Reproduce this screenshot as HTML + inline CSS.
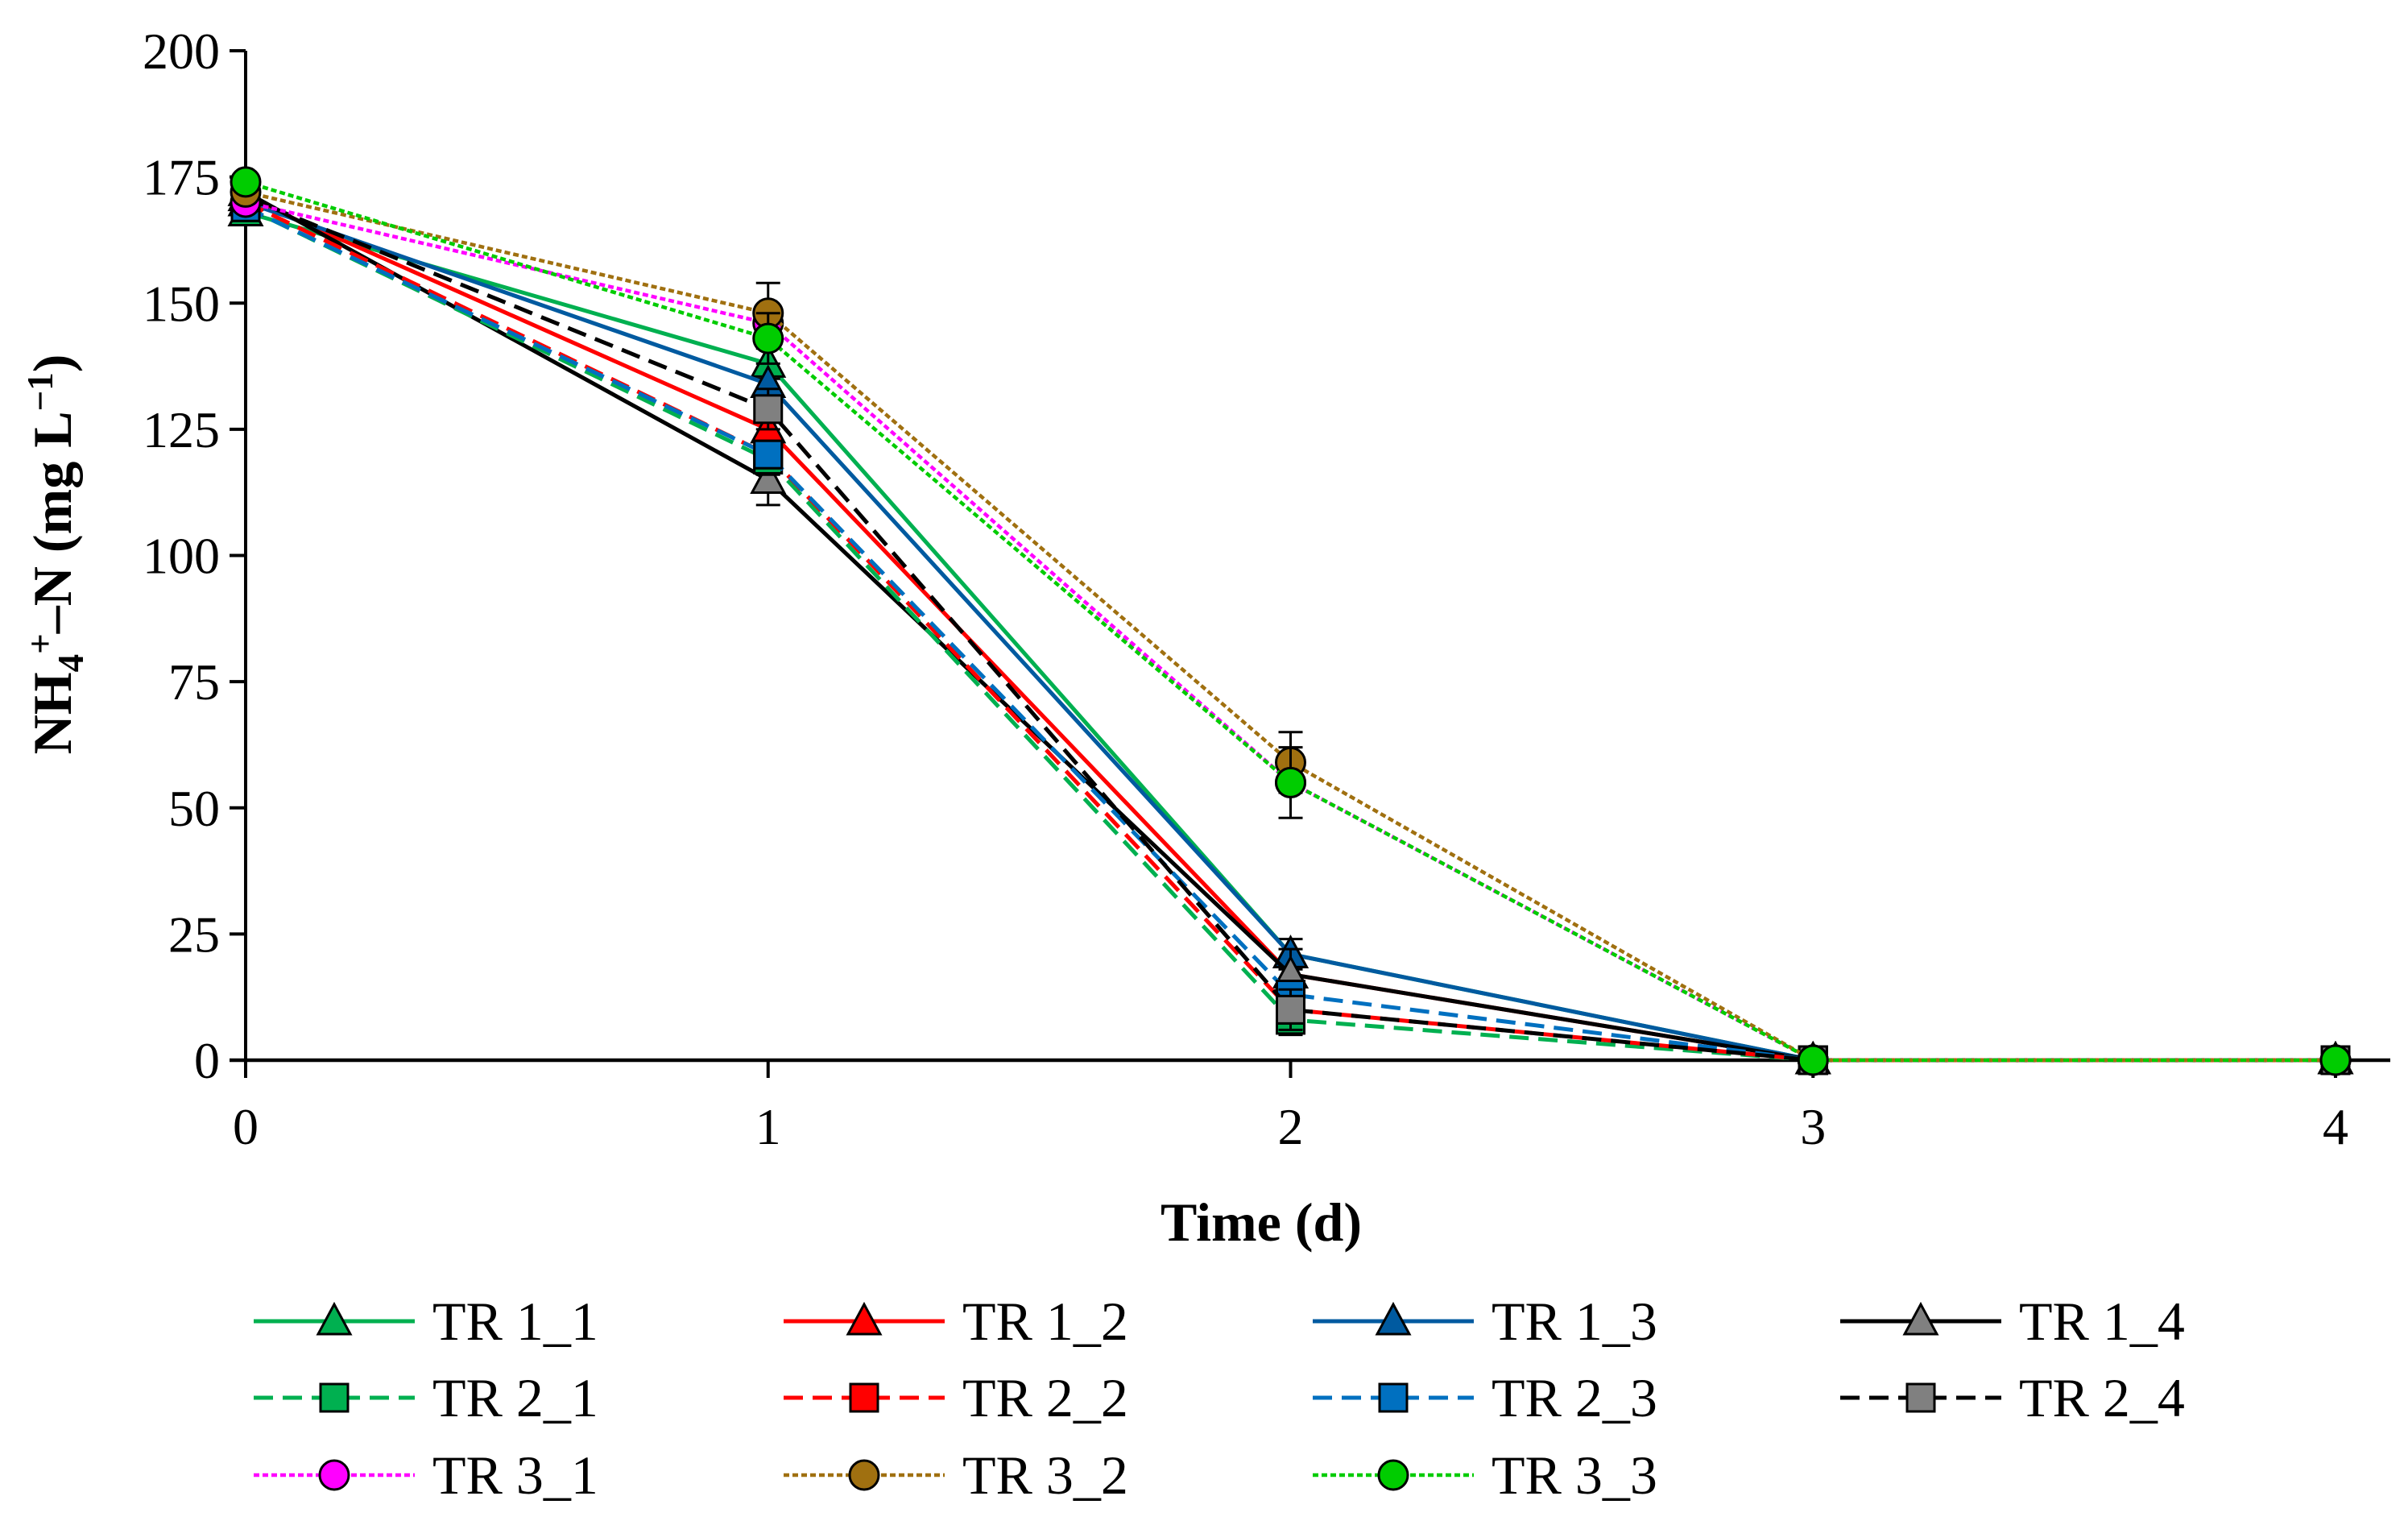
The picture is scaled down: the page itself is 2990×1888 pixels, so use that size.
<!DOCTYPE html>
<html><head><meta charset="utf-8"><style>
html,body{margin:0;padding:0;background:#fff}
svg{display:block;font-family:"Liberation Serif",serif}
</style></head><body>
<svg id="chart" width="2990" height="1888" viewBox="0 0 2990 1888" xmlns="http://www.w3.org/2000/svg">
<g id="axes"></g><g id="series"></g><g id="legend"></g>
</svg>
<script>
const days=[0,1,2,3,4];
const yTicks=[0,25,50,75,100,125,150,175,200];
const names=["TR 1_1","TR 1_2","TR 1_3","TR 1_4","TR 2_1","TR 2_2","TR 2_3","TR 2_4","TR 3_1","TR 3_2","TR 3_3"];
const v11=[168,138,21,0,0];
const v12=[171,125,17,0,0];
const v13=[170,134,21,0,0];
const v14=[172,115,17,0,0];
const v21=[169,119,8,0,0];
const v22=[170,120,10,0,0];
const v23=[169,120,13,0,0];
const v24=[171,129,10,0,0];
const v31=[170,146,55,0,0];
const v32=[172,148,59,0,0];
const v33=[174,143,55,0,0];
const e11=[0,3,3,0,0];
const e14=[0,5,5,0,0];
const e24=[0,4,4,0,0];
const e32=[0,6,6,0,0];
const e33=[0,5,7,0,0];
const e21=[0,3,3,0,0];
const values=[v11,v12,v13,v14,v21,v22,v23,v24,v31,v32,v33];
const errs=[e11,null,null,e14,e21,null,null,e24,null,e32,e33];
const styles=[
 {c:"#00B050",d:"",m:"tri",f:"#00B050"},
 {c:"#FF0000",d:"",m:"tri",f:"#FF0000"},
 {c:"#005AA0",d:"",m:"tri",f:"#005AA0"},
 {c:"#000000",d:"",m:"tri",f:"#808080"},
 {c:"#00B050",d:"24 12",m:"sq",f:"#00B050"},
 {c:"#FF0000",d:"24 12",m:"sq",f:"#FF0000"},
 {c:"#0070C0",d:"24 12",m:"sq",f:"#0070C0"},
 {c:"#000000",d:"24 12",m:"sq",f:"#808080"},
 {c:"#FF00FF",d:"7 4",m:"cir",f:"#FF00FF"},
 {c:"#A07010",d:"7 4",m:"cir",f:"#A07010"},
 {c:"#00CC00",d:"7 4",m:"cir",f:"#00CC00"}];
const NS="http://www.w3.org/2000/svg";
const X0=305,XS=648.75,Y0=1316,YS=6.265;
const xp=d=>X0+d*XS, yp=v=>Y0-v*YS;
function mk(t,a,p){const e=document.createElementNS(NS,t);for(const k in a)e.setAttribute(k,a[k]);p.appendChild(e);return e;}
const ax=document.getElementById('axes'),sr=document.getElementById('series'),lg=document.getElementById('legend');
const yl=mk('line',{x1:X0,y1:yp(200),x2:X0,y2:Y0,stroke:'#000','stroke-width':4},ax);

const xl=mk('line',{x1:X0-20,y1:Y0,x2:2968,y2:Y0,stroke:'#000','stroke-width':4.5},ax);

yTicks.forEach(t=>{
 mk('line',{x1:X0-20,y1:yp(t),x2:X0,y2:yp(t),stroke:'#000','stroke-width':4},ax);
 const tx=mk('text',{x:X0-32,y:yp(t)+22,'text-anchor':'end','font-size':64},ax);tx.textContent=t;
 
});
days.forEach(d=>{
 mk('line',{x1:xp(d),y1:Y0,x2:xp(d),y2:Y0+22,stroke:'#000','stroke-width':4},ax);
 const tx=mk('text',{x:xp(d),y:Y0+104,'text-anchor':'middle','font-size':64},ax);tx.textContent=d;
 
});
const xt=mk('text',{x:1566,y:1540,'text-anchor':'middle','font-size':68,'font-weight':'bold'},ax);xt.textContent="Time (d)";

const yt=mk('text',{x:0,y:0,'text-anchor':'middle','font-size':68,'font-weight':'bold',transform:'translate(88,688) rotate(-90)'},ax);
yt.innerHTML='NH<tspan font-size="45" dy="15">4</tspan><tspan font-size="45" dy="-38">+</tspan><tspan dy="23">–N (mg L</tspan><tspan font-size="45" dy="-23">−1</tspan><tspan dy="23">)</tspan>';

function marker(m,x,y,f,p,s){
 let e;
 if(m==='tri')e=mk('polygon',{points:`${x},${y-21*s} ${x-20*s},${y+16*s} ${x+20*s},${y+16*s}`,fill:f,stroke:'#000','stroke-width':3},p);
 else if(m==='sq')e=mk('rect',{x:x-17*s,y:y-17*s,width:34*s,height:34*s,fill:f,stroke:'#000','stroke-width':3},p);
 else e=mk('circle',{cx:x,cy:y,r:18*s,fill:f,stroke:'#000','stroke-width':3},p);
 return e;
}
values.forEach((vals,i)=>{
 const st=styles[i];const g=mk('g',{},sr);
 
 
 const pts=vals.map((v,j)=>xp(days[j])+','+yp(v)).join(' ');
 const pl=mk('polyline',{points:pts,fill:'none',stroke:st.c,'stroke-width':st.d==='7 4'?4.5:5,'stroke-dasharray':st.d},g);
 
 const er=errs[i];
 if(er)vals.forEach((v,j)=>{if(er[j]>0){const x=xp(days[j]);
  mk('line',{x1:x,y1:yp(v-er[j]),x2:x,y2:yp(v+er[j]),stroke:'#000','stroke-width':3},g);
  mk('line',{x1:x-15,y1:yp(v-er[j]),x2:x+15,y2:yp(v-er[j]),stroke:'#000','stroke-width':3},g);
  mk('line',{x1:x-15,y1:yp(v+er[j]),x2:x+15,y2:yp(v+er[j]),stroke:'#000','stroke-width':3},g);}});
 vals.forEach((v,j)=>{const mm=marker(st.m,xp(days[j]),yp(v),st.f,g,1);
  });
});
const colX=[315,973,1630,2285],rowY=[1640,1735,1831];
names.forEach((n,i)=>{
 const st=styles[i];const r=Math.floor(i/4),c=i%4;const x=colX[c],y=rowY[r];
 const g=mk('g',{},lg);
 
 mk('line',{x1:x,y1:y,x2:x+200,y2:y,stroke:st.c,'stroke-width':st.d==='7 4'?4.5:5,'stroke-dasharray':st.d},g);
 marker(st.m,x+100,y,st.f,g,1);
 const t=mk('text',{x:x+222,y:y+23,'font-size':68},g);t.textContent=n;
});
</script>
</body></html>
